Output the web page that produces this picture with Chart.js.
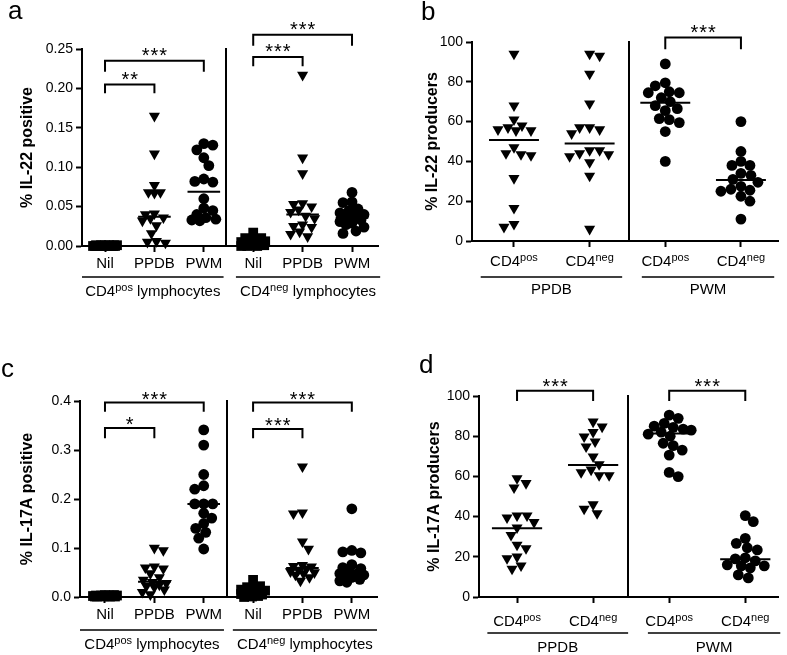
<!DOCTYPE html>
<html><head><meta charset="utf-8">
<script src="https://cdn.jsdelivr.net/npm/chart.js@4.4.1/dist/chart.umd.min.js"></script>
<style>
html,body{margin:0;padding:0;background:#fff;}
#wrap{position:relative;width:787px;height:655px;overflow:hidden;background:#fff;}
canvas{position:absolute;}
</style></head><body>
<div id="wrap">
<canvas id="ca" width="393" height="320" style="left:0;top:0;width:393px;height:320px"></canvas>
<canvas id="cb" width="394" height="320" style="left:393px;top:0;width:394px;height:320px"></canvas>
<canvas id="cc" width="393" height="335" style="left:0;top:320px;width:393px;height:335px"></canvas>
<canvas id="cd" width="394" height="335" style="left:393px;top:320px;width:394px;height:335px"></canvas>
</div>
<script>
// ---------------- DATA ----------------
// Panel a : % IL-22 positive
const A_CATS = ['Nil', 'PPDB', 'PWM', 'Nil', 'PPDB', 'PWM'];
const A_Y_TICKS = [0, 0.05, 0.10, 0.15, 0.20, 0.25];
const A_NIL_POS = [0.001,0.001,0.001,0.001,0.001,0.001,0.000,0.000,0.000,0.000,0.000,0.000,0.000,0.000,0.000,0.000];
const A_PPDB_POS = [0.165,0.117,0.077,0.068,0.068,0.067,0.041,0.040,0.036,0.035,0.032,0.026,0.016,0.006,0.005,0.004];
const A_PWM_POS = [0.130,0.128,0.122,0.112,0.102,0.085,0.082,0.081,0.060,0.048,0.045,0.040,0.036,0.034,0.033,0.032];
const A_NIL_NEG = [0.017,0.010,0.010,0.009,0.009,0.006,0.005,0.004,0.003,0.002,0.002,0.001,0.001,0.000,0.000,0.000];
const A_PPDB_NEG = [0.217,0.112,0.092,0.054,0.053,0.050,0.046,0.043,0.038,0.035,0.027,0.025,0.024,0.018,0.015,0.012];
const A_PWM_NEG = [0.068,0.056,0.055,0.047,0.045,0.042,0.040,0.037,0.035,0.033,0.031,0.029,0.027,0.024,0.019,0.016];
const A_MEDIANS = [0.000, 0.037, 0.069, 0.004, 0.040, 0.036];
const A_SIG = [[0,1,0.205,0.194,'**'],[0,2,0.235,0.221,'***'],[3,4,0.240,0.228,'***'],[3,5,0.268,0.254,'***']];
const A_GROUP_LABELS = [['CD4','pos',' lymphocytes'], ['CD4','neg',' lymphocytes']];

// Panel b : % IL-22 producers
const B_CATS = [['CD4','pos'], ['CD4','neg'], ['CD4','pos'], ['CD4','neg']];
const B_Y_TICKS = [0, 20, 40, 60, 80, 100];
const B_PPDB_POS = [94,68,61,58,57,56,55.5,55.5,47,44,43.5,43,31.5,16.5,8.5,7];
const B_PPDB_NEG = [94,93,84,69,57,57,56,54,45.5,45.5,44,43.5,42.5,39.5,32.7,6];
const B_PWM_POS = [89,79.5,78,75,74.5,74.5,72,70,68,66.5,65.5,61.5,61,59.5,55,40];
const B_PWM_NEG = [60,45,40,38,38,34,33,31,29.5,27.5,26,25.5,25,22.5,20,11];
const B_MEDIANS = [50.7, 49, 69.5, 30.7];
const B_SIG = [[2,3,102.2,96.3,'***']];
const B_GROUP_LABELS = [['PPDB'], ['PWM']];

// Panel c : % IL-17A positive
const C_CATS = ['Nil', 'PPDB', 'PWM', 'Nil', 'PPDB', 'PWM'];
const C_Y_TICKS = [0, 0.1, 0.2, 0.3, 0.4];
const C_NIL_POS = [0.004,0.004,0.003,0.003,0.003,0.003,0.002,0.002,0.002,0.002,0.002,0.001,0.001,0.001,0.001,0.001];
const C_PPDB_POS = [0.100,0.095,0.062,0.060,0.058,0.048,0.040,0.035,0.030,0.028,0.025,0.022,0.020,0.015,0.010,0.005];
const C_PWM_POS = [0.341,0.310,0.250,0.227,0.220,0.190,0.190,0.190,0.171,0.161,0.150,0.140,0.132,0.120,0.098];
const C_NIL_NEG = [0.035,0.022,0.020,0.018,0.015,0.013,0.012,0.011,0.010,0.008,0.006,0.005,0.003,0.002,0.001,0.000];
const C_PPDB_NEG = [0.266,0.172,0.170,0.113,0.098,0.065,0.063,0.062,0.058,0.055,0.052,0.050,0.048,0.045,0.040,0.033];
const C_PWM_NEG = [0.180,0.095,0.092,0.090,0.066,0.060,0.058,0.050,0.048,0.047,0.045,0.044,0.040,0.036,0.033,0.030];
const C_MEDIANS = [0.002, 0.031, 0.190, 0.011, 0.059, 0.047];
const C_SIG = [[0,1,0.345,0.324,'*'],[0,2,0.397,0.378,'***'],[3,4,0.343,0.324,'***'],[3,5,0.397,0.378,'***']];
const C_GROUP_LABELS = [['CD4','pos',' lymphocytes'], ['CD4','neg',' lymphocytes']];

// Panel d : % IL-17A producers
const D_CATS = [['CD4','pos'], ['CD4','neg'], ['CD4','pos'], ['CD4','neg']];
const D_Y_TICKS = [0, 20, 40, 60, 80, 100];
const D_PPDB_POS = [59,56.6,54.4,40.5,40.5,39.5,37.2,34.5,30.8,25.9,24.2,20,19.2,15.6,14];
const D_PPDB_NEG = [87.2,84.7,82,79.8,77.3,74.8,69.8,66,63.3,62,60.5,60.5,46,43.8,41.6];
const D_PWM_POS = [90.5,88.9,86.4,85,84.4,83.5,83,82,81,80,76.5,75.3,73.1,70.6,62,59.9];
const D_PWM_NEG = [40.5,37.5,29.2,26.7,24.5,23.4,19.5,19,18,16,15.5,15.5,14.5,11,9.5];
const D_MEDIANS = [34.2, 65.7, 81.4, 18.8];
const D_SIG = [[0,1,102.6,97.5,'***'],[2,3,102.6,97.5,'***']];
const D_GROUP_LABELS = [['PPDB'], ['PWM']];

// ---------------- RENDERING ----------------
const FONT = '"Liberation Sans", Arial, Helvetica, sans-serif';
Chart.defaults.font.family = FONT;
Chart.defaults.color = '#000';

const SHAPES = {
  square:   {style: 'rect', r: 6.9, rot: 0},
  triangle: {style: 'triangle', r: 6.4, rot: 180},
  circle:   {style: 'circle', r: 5.4, rot: 0}
};

function swarm(vals, pxY, minDist, maxHalf) {
  const idx = vals.map((v, i) => i).sort((a, b) => vals[b] - vals[a]);
  const placed = [];
  const offs = new Array(vals.length).fill(0);
  let flip = 1;
  for (const i of idx) {
    const y = vals[i] * pxY;
    const cands = [0];
    for (let k = 1; k <= maxHalf; k++) { cands.push(-k * flip, k * flip); }
    let chosen = null, best = -1, bestC = 0;
    for (const c of cands) {
      let md = Infinity;
      for (const p of placed) md = Math.min(md, Math.hypot(p[0] - c, p[1] - y));
      if (md >= minDist) { chosen = c; break; }
      if (md > best + 0.01) { best = md; bestC = c; }
    }
    if (chosen === null) chosen = bestC;
    if (chosen < 0) flip = -1; else if (chosen > 0) flip = 1;
    flip = -flip;
    placed.push([chosen, y]);
    offs[i] = chosen;
  }
  return offs;
}

function drawParts(ctx, cx, cy, parts, size) {
  const supSize = Math.round(size * 0.72);
  const fonts = parts.map((p, i) => (i % 2 === 1 ? supSize : size) + 'px ' + FONT);
  const widths = [];
  let total = 0;
  parts.forEach((p, i) => { ctx.font = fonts[i]; const w = ctx.measureText(p).width; widths.push(w); total += w; });
  let x = cx - total / 2;
  const base = cy + size * 0.36;
  ctx.textAlign = 'left';
  ctx.textBaseline = 'alphabetic';
  parts.forEach((p, i) => {
    ctx.font = fonts[i];
    ctx.fillText(p, x, i % 2 === 1 ? base - size * 0.34 : base);
    x += widths[i];
  });
}

function drawStars(ctx, cx, cyCenter, s) {
  ctx.font = '20px ' + FONT;
  ctx.textAlign = 'center';
  ctx.textBaseline = 'alphabetic';
  const n = s.length, sp = 8.8;
  for (let k = 0; k < n; k++) {
    ctx.fillText('*', cx + (k - (n - 1) / 2) * sp, cyCenter + 11.5);
  }
}

function makePanel(o) {
  const annot = {
    id: 'annot',
    afterDraw(chart) {
      const ctx = chart.ctx, xs = chart.scales.x, ys = chart.scales.y, ca = chart.chartArea;
      ctx.save();
      ctx.strokeStyle = '#000'; ctx.fillStyle = '#000';
      // separator
      ctx.lineWidth = 2;
      const sx = Math.round(xs.getPixelForValue(o.sep));
      ctx.beginPath(); ctx.moveTo(sx, ca.top - 1); ctx.lineTo(sx, ca.bottom); ctx.stroke();
      // significance brackets
      ctx.lineWidth = 2;
      for (const b of o.sig) {
        const x1 = xs.getPixelForValue(b[0]), x2 = xs.getPixelForValue(b[1]);
        const yt = ys.getPixelForValue(b[2]), yl = ys.getPixelForValue(b[3]);
        ctx.beginPath(); ctx.moveTo(x1, yl); ctx.lineTo(x1, yt); ctx.lineTo(x2, yt); ctx.lineTo(x2, yl); ctx.stroke();
        drawStars(ctx, (x1 + x2) / 2, yt - o.starGap, b[4]);
      }
      // superscript category labels
      if (o.supCats) {
        o.cats.forEach((parts, i) => drawParts(ctx, xs.getPixelForValue(i), ca.bottom + o.catDy, parts, 15));
      }
      // group underlines and labels
      ctx.lineWidth = 1.6;
      o.spans.forEach((sp, i) => {
        const x1 = xs.getPixelForValue(sp[0]), x2 = xs.getPixelForValue(sp[1]);
        const ly = ca.bottom + o.lineDy;
        ctx.beginPath(); ctx.moveTo(x1, ly); ctx.lineTo(x2, ly); ctx.stroke();
        drawParts(ctx, (x1 + x2) / 2, ca.bottom + o.groupDy, o.groupLabels[i], 15);
      });
      // panel letter
      ctx.font = '26px ' + FONT; ctx.textAlign = 'left'; ctx.textBaseline = 'alphabetic';
      ctx.fillText(o.letter, o.letterPos[0], o.letterPos[1]);
      ctx.restore();
    }
  };

  const datasets = [];
  o.medians.forEach((m, i) => datasets.push({
    type: 'line', data: [{x: i - 0.33, y: m}, {x: i + 0.33, y: m}],
    borderColor: '#000', borderWidth: 2, pointRadius: 0, clip: false, order: 0
  }));
  o.groups.forEach((vals, i) => {
    const sh = SHAPES[o.shapes[i]];
    datasets.push({
      type: 'scatter', data: vals.map(v => ({x: i, y: v})),
      pointStyle: sh.style, pointRadius: sh.r, pointHoverRadius: sh.r, pointRotation: sh.rot,
      backgroundColor: '#000', borderColor: '#000', borderWidth: 0, clip: false, order: 1
    });
  });

  const gridOpts = {display: true, drawOnChartArea: false, drawTicks: true, tickLength: 6, tickWidth: 2, tickColor: '#000'};
  const borderOpts = {display: true, color: '#000', width: 2};
  const XH = 40;
  const chart = new Chart(document.getElementById(o.id), {
    type: 'scatter',
    data: {datasets},
    options: {
      responsive: false, animation: false, devicePixelRatio: 1, events: [],
      layout: {padding: {left: 0, top: o.area.top, right: o.w - o.area.right, bottom: o.h - o.area.bottom - XH}},
      plugins: {legend: {display: false}, tooltip: {enabled: false}},
      scales: {
        x: {
          type: 'linear', min: o.xMin, max: o.xMax,
          afterBuildTicks: s => { s.ticks = o.cats.map((c, i) => ({value: i})); },
          afterFit: s => { s.height = XH; },
          grid: gridOpts, border: borderOpts,
          ticks: {color: '#000', font: {size: 15}, padding: 3, maxRotation: 0, autoSkip: false,
                  callback: (v, i) => o.supCats ? '' : o.cats[i]}
        },
        y: {
          type: 'linear', min: o.yTicks[0], max: o.yTicks[o.yTicks.length - 1],
          afterBuildTicks: s => { s.ticks = o.yTicks.map(v => ({value: v})); },
          afterFit: s => { s.width = o.area.left; },
          grid: gridOpts, border: borderOpts,
          ticks: {color: '#000', font: {size: 14}, padding: 3, callback: v => o.yFmt(v)},
          title: {display: true, text: o.title, color: '#000', font: {size: 16, weight: 'bold'},
                  padding: {top: o.titleCx - 9.6, bottom: 0}}
        }
      }
    },
    plugins: [annot]
  });

  const xs = chart.scales.x, ys = chart.scales.y;
  const pxX = xs.getPixelForValue(1) - xs.getPixelForValue(0);
  const pxY = ys.getPixelForValue(0) - ys.getPixelForValue(1);
  const nMed = o.medians.length;
  o.groups.forEach((vals, gi) => {
    const offs = swarm(vals, pxY, o.minDist, o.maxHalf);
    chart.data.datasets[nMed + gi].data = vals.map((v, k) => ({x: gi + offs[k] / pxX, y: v}));
  });
  chart.update('none');
  return chart;
}

makePanel({
  id: 'ca', w: 393, h: 320, area: {left: 82, top: 49, right: 378, bottom: 246},
  xMin: -0.466, xMax: 5.526, yTicks: A_Y_TICKS, yFmt: v => v.toFixed(2),
  cats: A_CATS, supCats: false,
  groups: [A_NIL_POS, A_PPDB_POS, A_PWM_POS, A_NIL_NEG, A_PPDB_NEG, A_PWM_NEG],
  shapes: ['square', 'triangle', 'circle', 'square', 'triangle', 'circle'],
  medians: A_MEDIANS, sig: A_SIG, sep: 2.44,
  spans: [[-0.466, 2.40], [2.65, 5.57]], groupLabels: A_GROUP_LABELS,
  lineDy: 31, groupDy: 44.5, catDy: 18, starGap: 10,
  title: '% IL-22 positive', titleCx: 28, letter: 'a', letterPos: [8, 19],
  minDist: 9, maxHalf: 12
});

makePanel({
  id: 'cb', w: 394, h: 320, area: {left: 79, top: 42, right: 385, bottom: 241},
  xMin: -0.555, xMax: 3.49, yTicks: B_Y_TICKS, yFmt: v => String(v),
  cats: B_CATS, supCats: true,
  groups: [B_PPDB_POS, B_PPDB_NEG, B_PWM_POS, B_PWM_NEG],
  shapes: ['triangle', 'triangle', 'circle', 'circle'],
  medians: B_MEDIANS, sig: B_SIG, sep: 1.52,
  spans: [[-0.44, 1.43], [1.69, 3.44]], groupLabels: B_GROUP_LABELS,
  lineDy: 36, groupDy: 48, catDy: 20, starGap: 10,
  title: '% IL-22 producers', titleCx: 40, letter: 'b', letterPos: [28, 20],
  minDist: 9.5, maxHalf: 22
});

makePanel({
  id: 'cc', w: 393, h: 335, area: {left: 80, top: 81, right: 377, bottom: 277},
  xMin: -0.506, xMax: 5.51, yTicks: C_Y_TICKS, yFmt: v => v.toFixed(1),
  cats: C_CATS, supCats: false,
  groups: [C_NIL_POS, C_PPDB_POS, C_PWM_POS, C_NIL_NEG, C_PPDB_NEG, C_PWM_NEG],
  shapes: ['square', 'triangle', 'circle', 'square', 'triangle', 'circle'],
  medians: C_MEDIANS, sig: C_SIG, sep: 2.47,
  spans: [[-0.506, 2.41], [2.59, 5.51]], groupLabels: C_GROUP_LABELS,
  lineDy: 33, groupDy: 46.5, catDy: 19, starGap: 8,
  title: '% IL-17A positive', titleCx: 28, letter: 'c', letterPos: [1, 57],
  minDist: 9, maxHalf: 12
});

makePanel({
  id: 'cd', w: 394, h: 335, area: {left: 86, top: 76, right: 385, bottom: 277},
  xMin: -0.5, xMax: 3.43, yTicks: D_Y_TICKS, yFmt: v => String(v),
  cats: D_CATS, supCats: true,
  groups: [D_PPDB_POS, D_PPDB_NEG, D_PWM_POS, D_PWM_NEG],
  shapes: ['triangle', 'triangle', 'circle', 'circle'],
  medians: D_MEDIANS, sig: D_SIG, sep: 1.46,
  spans: [[-0.39, 1.46], [1.72, 3.46]], groupLabels: D_GROUP_LABELS,
  lineDy: 36, groupDy: 50, catDy: 24, starGap: 9,
  title: '% IL-17A producers', titleCx: 42, letter: 'd', letterPos: [26, 53],
  minDist: 9.5, maxHalf: 22
});
</script>
</body></html>
